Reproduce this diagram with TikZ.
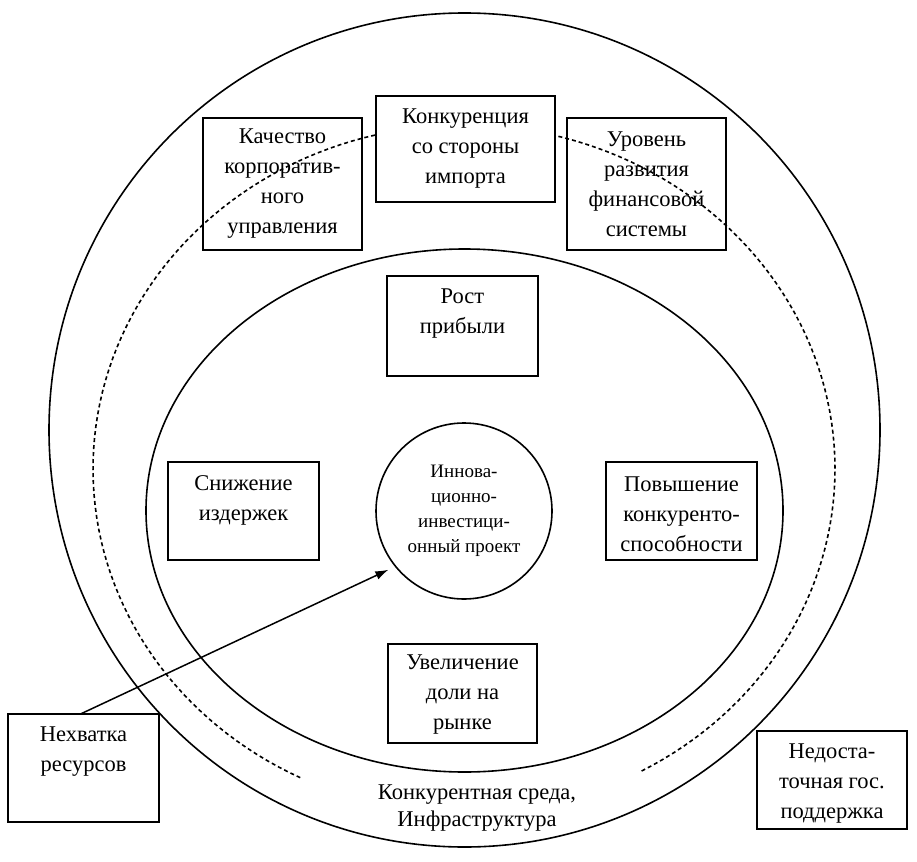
\documentclass[tikz,border=0pt]{standalone}
\usepackage{fontspec}
\setmainfont{Liberation Serif}
\usetikzlibrary{arrows.meta}
\tikzset{
  ln/.style={line width=1.6pt},
  boxr/.style={draw, line width=1.6pt, rectangle, inner sep=0pt, outer sep=0pt},
  txt/.style={align=center, inner sep=0pt, font=\fontsize{22.5}{30}\selectfont},
  ctxt/.style={align=center, inner sep=0pt, font=\fontsize{19}{25}\selectfont},
  btxt/.style={align=center, inner sep=0pt, font=\fontsize{22.5}{26.5}\selectfont},
  dsh/.style={line width=1.6pt, dash pattern=on 4pt off 3pt}
}
\begin{document}
\begin{tikzpicture}[x=1pt,y=-1pt]
\useasboundingbox[fill=white] (0,0) rectangle (917,861);
% ellipses
\draw[ln] (464.5,430) ellipse[x radius=415.5, y radius=417];
\draw[ln] (464.5,510.5) ellipse[x radius=318.5, y radius=261.5];
\draw[dsh] plot[domain=-61.4:243.8, samples=160] ({464+371*cos(\x)},{469-344*sin(\x)});
% top boxes
\node[boxr, fill=white, minimum width=179pt, minimum height=106pt] (konk) at (465.5,149) {};
\node[txt] at (konk.center) {Конкуренция\\со стороны\\импорта};
\node[boxr, minimum width=159pt, minimum height=132pt] (kach) at (282.5,184) {};
\node[txt] at (kach.center) {Качество\\корпоратив-\\ного\\управления};
\node[boxr, minimum width=159pt, minimum height=132pt] (urov) at (646.5,184) {};
\node[txt] at (urov.center) {Уровень\\развития\\финансовой\\системы};
% inner boxes
\node[boxr, minimum width=151pt, minimum height=100pt] (rost) at (462.5,326) {};
\node[txt] at (462.5,314) {Рост\\прибыли};
\node[boxr, minimum width=151pt, minimum height=98pt] (snizh) at (243.5,511) {};
\node[txt] at (243.5,500) {Снижение\\издержек};
\node[boxr, minimum width=151pt, minimum height=98pt] (povysh) at (681.5,511) {};
\node[txt] at (681.5,514) {Повышение\\конкуренто-\\способности};
\node[boxr, minimum width=149pt, minimum height=99pt] (uvel) at (462.5,693.5) {};
\node[txt] at (462.5,695) {Увеличение\\доли на\\рынке};
% centre circle
\node[draw, line width=1.6pt, circle, minimum size=176pt, inner sep=0pt, outer sep=0pt] (circ) at (464,511) {};
\node[ctxt] at (464,511) {Иннова-\\ционно-\\инвестици-\\онный проект};
% outer boxes
\node[boxr, minimum width=151pt, minimum height=108pt] (nex) at (83.5,768) {};
\node[txt] at (83.5,752) {Нехватка\\ресурсов};
\node[boxr, minimum width=150pt, minimum height=98pt] (nedost) at (832,780) {};
\node[txt] at (832,784) {Недоста-\\точная гос.\\поддержка};
% bottom label
\node[btxt] (env) at (477,808) {Конкурентная среда,\\Инфраструктура};
% arrow
\draw[line width=1.5pt, -{Latex[length=13pt,width=9pt]}, shorten >=8pt] ([xshift=-3pt]nex.north) -- (circ.219);
\end{tikzpicture}
\end{document}
